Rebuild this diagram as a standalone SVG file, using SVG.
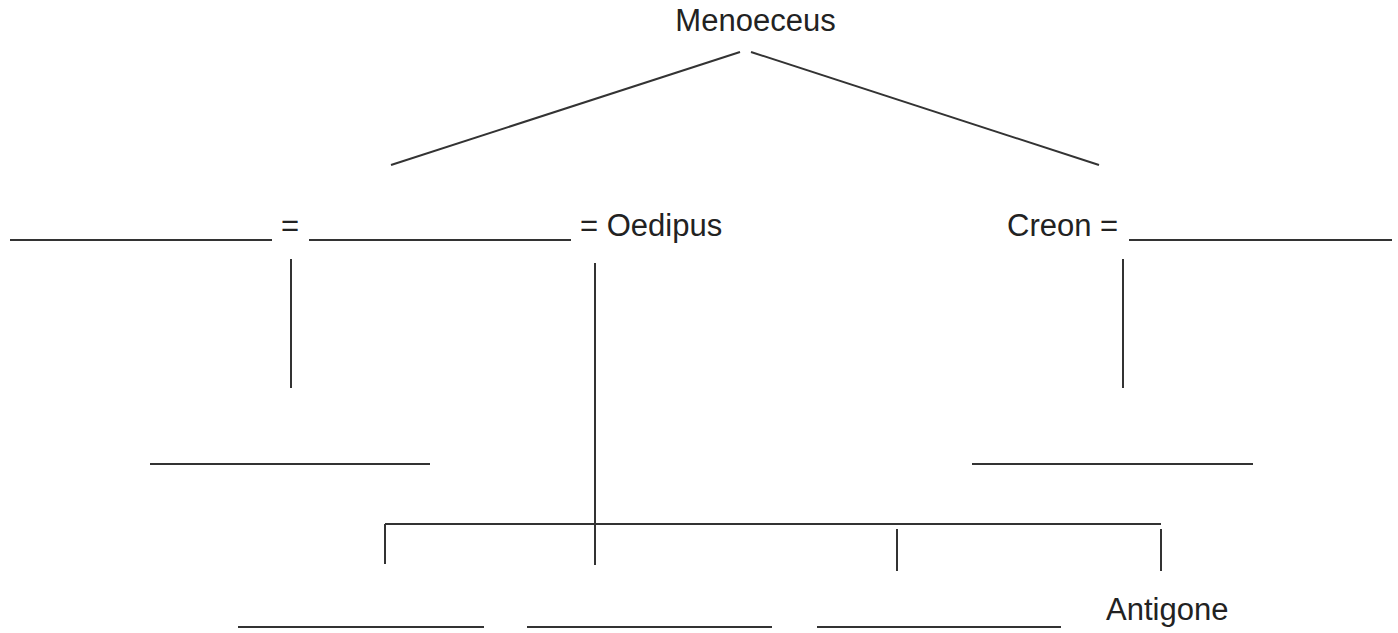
<svg xmlns="http://www.w3.org/2000/svg" width="1398" height="633" viewBox="0 0 1398 633">
<style>
.t{font-family:"Liberation Sans",Arial,sans-serif;font-size:31px;fill:#222}
.l{stroke:#333;stroke-width:2;fill:none}
</style>
<rect width="1398" height="633" fill="#fff"/>
<g id="connectors">
<line class="l" x1="740" y1="52" x2="391" y2="165"/>
<line class="l" x1="751" y1="52" x2="1099" y2="165"/>
<line class="l" x1="291" y1="259" x2="291" y2="388"/>
<line class="l" x1="595" y1="263" x2="595" y2="565"/>
<line class="l" x1="1123" y1="259" x2="1123" y2="388"/>
<line class="l" x1="385" y1="524" x2="1161" y2="524"/>
<line class="l" x1="385" y1="524" x2="385" y2="564"/>
<line class="l" x1="897" y1="529" x2="897" y2="571"/>
<line class="l" x1="1161" y1="529" x2="1161" y2="571"/>
</g>
<g id="menoeceus"><text class="t" x="755.5" y="31" text-anchor="middle">Menoeceus</text></g>
<g id="spouse1"><line class="l" x1="10" y1="240" x2="272" y2="240"/></g>
<g id="eq1"><text class="t" x="290" y="236" text-anchor="middle">=</text></g>
<g id="jocasta"><line class="l" x1="309" y1="240" x2="571" y2="240"/></g>
<g id="oedipus"><text class="t" x="580" y="236">= Oedipus</text></g>
<g id="creon"><text class="t" x="1007" y="236">Creon =</text></g>
<g id="creonwife"><line class="l" x1="1129" y1="240" x2="1392" y2="240"/></g>
<g id="child1"><line class="l" x1="150" y1="464" x2="430" y2="464"/></g>
<g id="child2"><line class="l" x1="972" y1="464" x2="1253" y2="464"/></g>
<g id="kid1"><line class="l" x1="238" y1="627" x2="484" y2="627"/></g>
<g id="kid2"><line class="l" x1="527" y1="627" x2="772" y2="627"/></g>
<g id="kid3"><line class="l" x1="817" y1="627" x2="1061" y2="627"/></g>
<g id="antigone"><text class="t" x="1106" y="620">Antigone</text></g>
</svg>
